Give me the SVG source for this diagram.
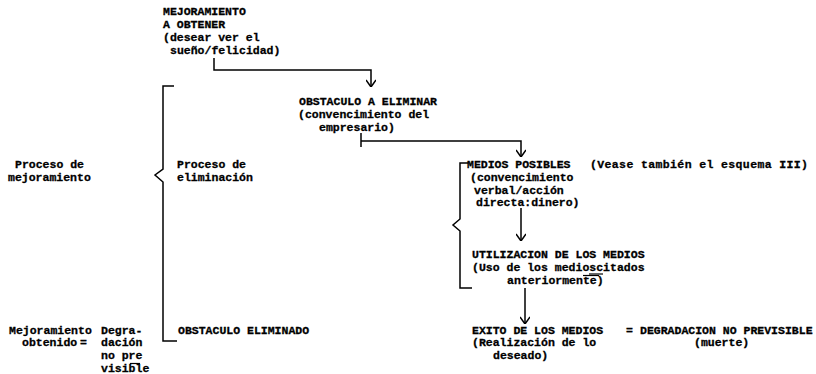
<svg xmlns="http://www.w3.org/2000/svg" width="816" height="374" viewBox="0 0 816 374">
<defs>
<style>
text{font-family:"Liberation Mono","DejaVu Sans Mono",monospace;font-weight:bold;font-size:11.5px;fill:#000;stroke:#000;stroke-width:0.3}
.ln{fill:none;stroke:#000;stroke-width:1.5}
.mk{fill:none;stroke:#000;stroke-width:1.2}
</style>
<marker id="v" markerUnits="userSpaceOnUse" viewBox="0 0 10 10" refX="10" refY="5" markerWidth="10" markerHeight="10" orient="auto">
<path d="M3,0 L10,5 L3,10" fill="none" stroke="#000" stroke-width="1.5"/>
</marker>
</defs>
<rect width="816" height="374" fill="#fff"/>

<g id="n-mejoramiento-a-obtener">
<text x="163" y="15">MEJORAMIENTO</text>
<text x="163" y="28">A OBTENER</text>
<text x="163" y="41">(desear ver el</text>
<text x="170" y="54">sueño/felicidad)</text>
</g>

<g id="n-obstaculo-a-eliminar">
<text x="299" y="105">OBSTACULO A ELIMINAR</text>
<text x="298" y="118">(convencimiento del</text>
<text x="319" y="131">empresario)</text>
</g>

<g id="n-medios-posibles">
<text x="467" y="168">MEDIOS POSIBLES</text>
<text x="470" y="181">(convencimiento</text>
<text x="474" y="194">verbal/acción</text>
<text x="476" y="206">directa:dinero)</text>
</g>

<g id="n-vease">
<text x="590" y="168" textLength="218">(Vease también el esquema III)</text>
</g>

<g id="n-utilizacion">
<text x="472" y="258">UTILIZACION DE LOS MEDIOS</text>
<text x="472" y="271">(Uso de los medioscitados</text>
<text x="507" y="283.5">anteriormente)</text>
<line class="mk" x1="589" y1="274" x2="603" y2="274"/>
<line class="mk" x1="583" y1="275.5" x2="599" y2="275.5"/>
</g>

<g id="n-exito">
<text x="472" y="333.5">EXITO DE LOS MEDIOS</text>
<text x="472" y="346">(Realización de lo</text>
<text x="493" y="359">deseado)</text>
</g>

<g id="n-igual">
<text x="626" y="333.5">=</text>
</g>

<g id="n-degradacion">
<text x="640" y="333.5">DEGRADACION NO PREVISIBLE</text>
<text x="694" y="346">(muerte)</text>
</g>

<g id="n-proceso-mejoramiento">
<text x="15" y="168">Proceso de</text>
<text x="8" y="181">mejoramiento</text>
</g>

<g id="n-proceso-eliminacion">
<text x="177" y="168">Proceso de</text>
<text x="177" y="181">eliminación</text>
</g>

<g id="n-mejoramiento-obtenido">
<text x="9" y="333.5">Mejoramiento</text>
<text x="22" y="346">obtenido</text>
<text x="80" y="346">=</text>
</g>

<g id="n-degradacion-no-previsible">
<text x="101" y="333.5">Degra-</text>
<text x="101" y="346">dación</text>
<text x="101" y="359">no pre</text>
<text x="101" y="372">visible</text>
<line class="mk" x1="130" y1="363.5" x2="140" y2="363.5"/>
</g>

<g id="n-obstaculo-eliminado">
<text x="178" y="333.5">OBSTACULO ELIMINADO</text>
</g>

<g id="braces">
<path class="ln" d="M174,86 H163 V169 L155,175 L163,182 V341 H177"/>
<path class="ln" d="M468,163 H460 V219 L453,225 L460,231 V288 H472"/>
</g>

<g id="connectors">
<path class="ln" d="M214,58 V70 H371 V87" marker-end="url(#v)"/>
<path class="ln" d="M361,133 V147"/>
<path class="ln" d="M361,141 H521 V157" marker-end="url(#v)"/>
<path class="ln" d="M521,208 V241" marker-end="url(#v)"/>
<path class="ln" d="M525,288 V324" marker-end="url(#v)"/>
</g>
</svg>
